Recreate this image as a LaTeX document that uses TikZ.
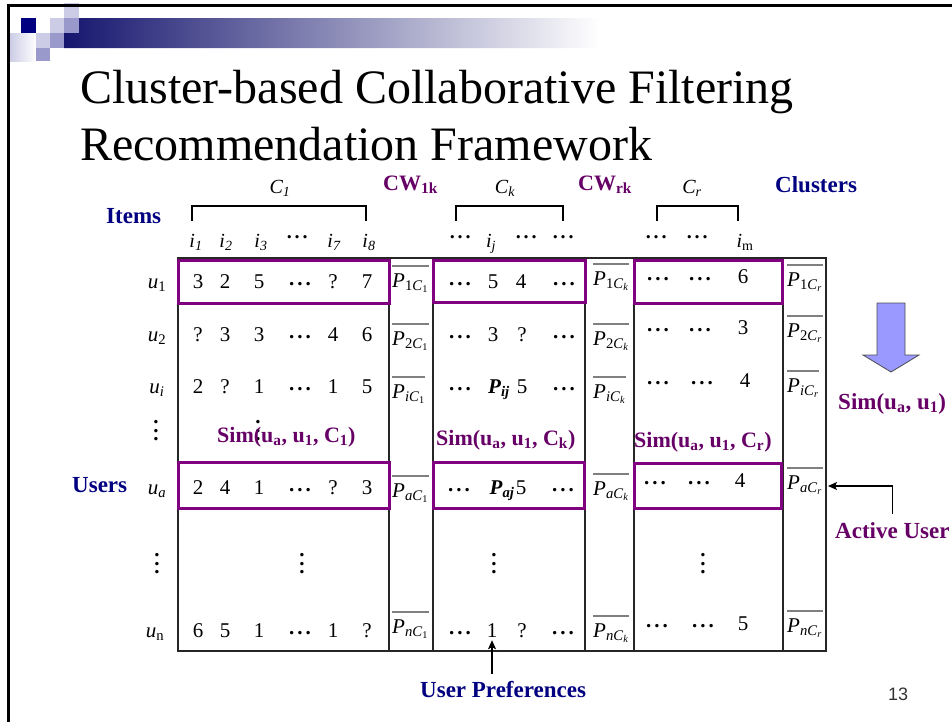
\documentclass[tikz,border=0pt]{standalone}
\usepackage{fontspec}
\setmainfont{Liberation Serif}
\newfontfamily\slidesans{Liberation Sans}
\usetikzlibrary{arrows.meta}
\definecolor{navy}{HTML}{000080}
\definecolor{simpurple}{HTML}{660066}
\definecolor{boxpurple}{HTML}{800080}
\definecolor{lavlight}{HTML}{CCCCE6}
\definecolor{lavmid}{HTML}{9999CC}
\definecolor{bardark}{HTML}{16166F}
\definecolor{barmid}{HTML}{77779C}
\definecolor{arrowfill}{HTML}{9999FF}
% rating ellipsis and vertical ellipsis
\newcommand\dts{\raisebox{.12em}{\bfseries .\kern.14em.\kern.14em.}}
\newcommand\hdts{\raisebox{.42em}{\bfseries .\kern.14em.\kern.14em.}}
\newcommand\vdt{\vbox{\baselineskip=8.5pt\lineskiplimit=-20pt\hbox{\bfseries .}\hbox{\bfseries .}\hbox{\bfseries .}}}
% cluster average  P_{row C_cluster}
\newcommand\Pb[2]{\textit{P}\textsubscript{#1\textit{C}\textsubscript{#2}}}
\newcommand\Pij{\textbf{\textit{P}\textsubscript{\textit{ij}}}}
\newcommand\Paj{\textbf{\textit{P}\textsubscript{\textit{aj}}}}
\newcommand\simlab[1]{Sim(u\textsubscript{a}, u\textsubscript{1}#1)}
\begin{document}
\begin{tikzpicture}[x=1pt,y=-1pt,
  every node/.style={inner sep=0pt},
  cell/.style={font=\fontsize{21}{25}\selectfont, anchor=base},
  itemlbl/.style={font=\fontsize{20}{24}\selectfont\itshape, anchor=base},
  pnode/.style={font=\fontsize{21}{25}\selectfont, anchor=base west, inner ysep=7pt, inner xsep=0pt},
  pline/.style={draw=gray, line width=1.2pt},
  tline/.style={draw=black!85, line width=1.3pt},
  pbox/.style={draw=boxpurple, line width=3pt},
  bracket/.style={draw=black, line width=1.6pt},
  navylbl/.style={font=\bfseries\fontsize{23}{27}\selectfont, text=navy, anchor=base west},
  purplelbl/.style={font=\bfseries\fontsize{22}{26}\selectfont, text=simpurple, anchor=base west},
  arr/.style={draw=black, line width=1.3pt, -{Stealth[length=9pt,width=8pt,inset=2pt]}},
  vdotnode/.style={font=\fontsize{21}{25}\selectfont}
]
\useasboundingbox (0,0) rectangle (952,721);

% ---- header decoration ----
\fill[lavlight] (64,3) rectangle (79,18);
\fill[navy] (21,18) rectangle (36,33);
\fill[lavlight] (50,18) rectangle (64,33);
\fill[lavmid] (64,18) rectangle (79,33);
\shade[left color=lavlight, right color=white] (10,33) rectangle (36,61);
\fill[lavlight] (36,33) rectangle (50,48);
\fill[lavmid] (50,33) rectangle (64,48);
\fill[lavmid] (36,48) rectangle (50,61);
\shade[left color=bardark, middle color=barmid, right color=white]
  (64,33) -- (79,33) -- (79,18) -- (600,18) -- (600,48) -- (64,48) -- cycle;
\draw[line width=3pt] (8.5,730) -- (8.5,5.5) -- (960,5.5);

% ---- title ----
\node[anchor=base west, font=\fontsize{48}{56}\selectfont] (title1) at (80,103) {Cluster-based Collaborative Filtering};
\node[anchor=base west, font=\fontsize{48}{56}\selectfont] (title2) at (80,160) {Recommendation Framework};

% ---- cluster headers ----
\node[cell, font=\fontsize{20}{24}\selectfont\itshape] (hc1) at (280,193) {C\textsubscript{1}};
\node[cell, font=\fontsize{20}{24}\selectfont\itshape] (hck) at (505,193) {C\textsubscript{k}};
\node[cell, font=\fontsize{20}{24}\selectfont\itshape] (hcr) at (692,193) {C\textsubscript{r}};
\node[purplelbl] (cw1) at (383,190) {CW\textsubscript{1k}};
\node[purplelbl] (cwr) at (578,190) {CW\textsubscript{rk}};
\node[navylbl] (clusters) at (775,192) {Clusters};
\node[navylbl] (items) at (106,223) {Items};
\draw[bracket] (192,221) -- (192,206) -- (366,206) -- (366,221);
\draw[bracket] (456,221) -- (456,206) -- (563,206) -- (563,221);
\draw[bracket] (657,221) -- (657,206) -- (738,206) -- (738,221);

% ---- item labels ----
\node[itemlbl] (i1) at (196,247) {i\textsubscript{1}};
\node[itemlbl] (i2) at (226,247) {i\textsubscript{2}};
\node[itemlbl] (i3) at (261,247) {i\textsubscript{3}};
\node[itemlbl] (id1) at (298,247) {\hdts};
\node[itemlbl] (i7) at (334,247) {i\textsubscript{7}};
\node[itemlbl] (i8) at (369,247) {i\textsubscript{8}};
\node[itemlbl] (id2) at (461,247) {\hdts};
\node[itemlbl] (ij) at (491,247) {i\textsubscript{j}};
\node[itemlbl] (id3) at (527,247) {\hdts};
\node[itemlbl] (id4) at (564,247) {\hdts};
\node[itemlbl] (id5) at (657,247) {\hdts};
\node[itemlbl] (id6) at (698,247) {\hdts};
\node[itemlbl] (im) at (745,247) {i\textsubscript{\upshape m}};

% ---- table frame ----
\draw[tline] (178,258) rectangle (826,651);
\foreach \x in {389,433,585,634,783} \draw[tline] (\x,258) -- (\x,651);

% ---- user labels ----
\node[cell, font=\fontsize{21}{25}\selectfont] (u1) at (157,288) {\textit{u}\textsubscript{1}};
\node[cell, font=\fontsize{21}{25}\selectfont] (u2) at (157,341) {\textit{u}\textsubscript{2}};
\node[cell, font=\fontsize{21}{25}\selectfont] (ui) at (157,393) {\textit{u}\textsubscript{\textit{i}}};
\node[cell, font=\fontsize{21}{25}\selectfont] (ua) at (157,494) {\textit{u}\textsubscript{\textit{a}}};
\node[cell, font=\fontsize{21}{25}\selectfont] (un) at (155,637) {\textit{u}\textsubscript{n}};
\node[navylbl] (users) at (72,492) {Users};

% ---- vertical ellipses ----
\node[vdotnode] (vd1) at (156,431) {\vdt};
\node[vdotnode] (vd2) at (258,431) {\vdt};
\node[vdotnode] (vd3) at (157,564) {\vdt};
\node[vdotnode] (vd4) at (302,564) {\vdt};
\node[vdotnode] (vd5) at (494,564) {\vdt};
\node[vdotnode] (vd6) at (703,564) {\vdt};

% ---- ratings, cluster C1 ----
\foreach \x/\v in {198/3,225/2,259/5,300/\dts,333/?,367/7} \node[cell] (a1-\x) at (\x,288) {\v};
\foreach \x/\v in {198/?,225/3,259/3,300/\dts,333/4,367/6} \node[cell] (a2-\x) at (\x,341) {\v};
\foreach \x/\v in {198/2,225/?,259/1,300/\dts,333/1,367/5} \node[cell] (ai-\x) at (\x,393) {\v};
\foreach \x/\v in {198/2,225/4,259/1,300/\dts,333/?,367/3} \node[cell] (aa-\x) at (\x,494) {\v};
\foreach \x/\v in {198/6,225/5,259/1,300/\dts,333/1,367/?} \node[cell] (an-\x) at (\x,637) {\v};

% ---- ratings, cluster Ck ----
\foreach \x/\v in {460/\dts,493/5,521/4,564/\dts} \node[cell] (b1-\x) at (\x,288) {\v};
\foreach \x/\v in {460/\dts,493/3,522/?,564/\dts} \node[cell] (b2-\x) at (\x,341) {\v};
\foreach \x/\v in {460/\dts,499/\Pij,522/5,564/\dts} \node[cell] (bi-\x) at (\x,393) {\v};
\foreach \x/\v in {459/\dts,502/\Paj,521/5,563/\dts} \node[cell] (ba-\x) at (\x,494) {\v};
\foreach \x/\v in {460/\dts,492/1,522/?,563/\dts} \node[cell] (bn-\x) at (\x,637) {\v};

% ---- ratings, cluster Cr ----
\foreach \x/\v in {658/\dts,700/\dts,743/6} \node[cell] (c1-\x) at (\x,283) {\v};
\foreach \x/\v in {658/\dts,700/\dts,743/3} \node[cell] (c2-\x) at (\x,334) {\v};
\foreach \x/\v in {658/\dts,702/\dts,745/4} \node[cell] (ci-\x) at (\x,387) {\v};
\foreach \x/\v in {655/\dts,699/\dts,740/4} \node[cell] (ca-\x) at (\x,487) {\v};
\foreach \x/\v in {657/\dts,703/\dts,743/5} \node[cell] (cn-\x) at (\x,630) {\v};

% ---- cluster averages ----
\foreach \n/\x/\yy/\t in {
  p11/392/287/{\Pb{1}{1}}, p21/392/345/{\Pb{2}{1}}, pi1/392/398/{\Pb{\textit{i}}{1}},
  pa1/392/497/{\Pb{\textit{a}}{1}}, pn1/392/633/{\Pb{\textit{n}}{1}},
  p1k/593/285/{\Pb{1}{\textit{k}}}, p2k/593/345/{\Pb{2}{\textit{k}}}, pik/593/398/{\Pb{\textit{i}}{\textit{k}}},
  pak/593/495/{\Pb{\textit{a}}{\textit{k}}}, pnk/593/637/{\Pb{\textit{n}}{\textit{k}}},
  p1r/787/286/{\Pb{1}{\textit{r}}}, p2r/787/337/{\Pb{2}{\textit{r}}}, pir/787/392/{\Pb{\textit{i}}{\textit{r}}},
  par/787/489/{\Pb{\textit{a}}{\textit{r}}}, pnr/787/632/{\Pb{\textit{n}}{\textit{r}}}}
{
  \node[pnode] (\n) at (\x,\yy) {\t};
  \draw[pline] (\n.north west) -- (\n.north east);
}

% ---- highlighted rows ----
\draw[pbox] (178,260) rectangle (389,303);
\draw[pbox] (433,260) rectangle (585,302);
\draw[pbox] (634,260) rectangle (782,303);
\draw[pbox] (178,462) rectangle (389,508);
\draw[pbox] (433,462) rectangle (584,508);
\draw[pbox] (634,463) rectangle (781,508);

% ---- similarity labels ----
\node[purplelbl] (sim1) at (217,442) {\simlab{, C\textsubscript{1}}};
\node[purplelbl] (simk) at (436,445) {\simlab{, C\textsubscript{k}}};
\node[purplelbl] (simr) at (634,447) {\simlab{, C\textsubscript{r}}};
\node[purplelbl, font=\bfseries\fontsize{23}{27}\selectfont] (simall) at (838,409) {\simlab{}};

% ---- aggregation arrow ----
\draw[draw=black!70, line width=0.8pt, fill=arrowfill]
  (877,303) -- (905,303) -- (905,355) -- (919,355) -- (891,372) -- (863,355) -- (877,355) -- cycle;

% ---- active user ----
\node[purplelbl, font=\bfseries\fontsize{23}{27}\selectfont] (active) at (835,538) {Active User};
\coordinate (acttip) at (828,486);
\draw[arr] ([yshift=8pt]active.north) |- (acttip);

% ---- user preferences ----
\node[navylbl] (prefs) at (420,697) {User Preferences};
\draw[arr] ([yshift=7pt]prefs.north -| bn-492.south) -- ([yshift=-3pt]bn-492.south);

% ---- page number ----
\node[anchor=base west, font=\slidesans\fontsize{18}{20}\selectfont, text=black!80] (pgno) at (888,700) {13};
\end{tikzpicture}
\end{document}
